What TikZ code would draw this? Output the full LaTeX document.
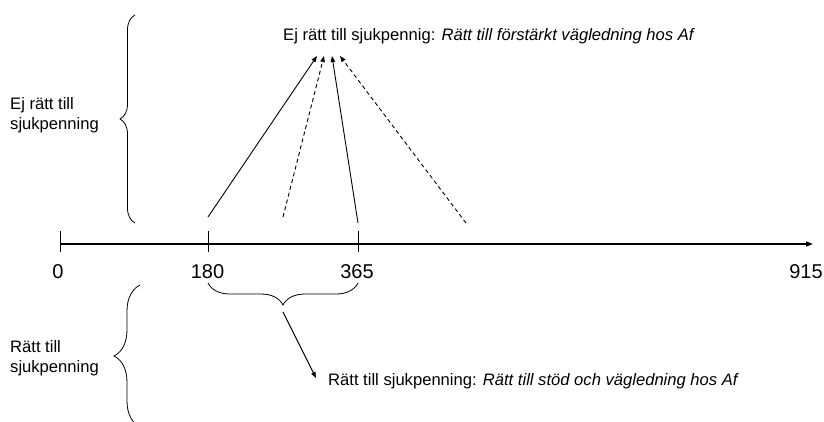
\documentclass[tikz,border=0pt]{standalone}
\usepackage{fontspec}
\setmainfont{Liberation Sans}
\usetikzlibrary{arrows.meta,decorations.pathreplacing}
\begin{document}
\begin{tikzpicture}[x=1pt,y=1pt,
  lbl/.style={inner sep=0pt,font=\fontsize{16.6}{20}\selectfont,align=left},
  num/.style={inner sep=0pt,font=\fontsize{20}{22}\selectfont},
  arr/.style={line width=0.9pt,-{Triangle[length=6pt,width=4.5pt]}},
  dsh/.style={arr,dash pattern=on 4pt off 3pt},
  tick/.style={line width=0.8pt},
  brc/.style={line width=0.8pt,decorate,decoration={brace,amplitude=#1}}]
\useasboundingbox (0,0) rectangle (824,-421);
\begin{scope}
\clip (0,0) rectangle (824,-421);
% axis
\coordinate (a0) at (60,-244);
\coordinate (aend) at (813,-244);
\draw[line width=1.3pt,-{Triangle[length=7pt,width=5pt]}] (a0) -- (aend);
\draw[tick] (60,-231) -- (60,-252);
\draw[tick] (208,-231) -- (208,-252);
\draw[tick] (358,-231) -- (358,-252);
\node[num] (n0) at (58,-272) {0};
\node[num] (n180) at (207.5,-272) {180};
\node[num] (n365) at (357,-272) {365};
\node[num] (n915) at (806,-272) {915};
% braces
\draw[brc=15] (135,-223) -- (135,-15);
\draw[brc=26] (140,-427) -- (140,-285);
\draw[brc=22] (358,-283) -- (208,-283);
\node[lbl,anchor=west] (ej) at (10,-115) {Ej rätt till\\sjukpenning};
\node[lbl,anchor=west] (ratt) at (10,-358) {Rätt till\\sjukpenning};
% top text and arrows
\node[lbl,anchor=west] (top) at (283,-36) {Ej rätt till sjukpennig: \textit{Rätt till förstärkt vägledning hos Af}};
\coordinate (s1) at (208,-217);
\coordinate (s2) at (283,-217);
\coordinate (s3) at (358,-223);
\coordinate (s4) at (466,-223);
\coordinate (t1) at (317,-56);
\coordinate (t2) at (324,-56);
\coordinate (t3) at (332,-56);
\coordinate (t4) at (340,-56);
\draw[arr] (s1) -- (t1);
\draw[dsh] (s2) -- (t2);
\draw[arr] (s3) -- (t3);
\draw[dsh] (s4) -- (t4);
% bottom
\coordinate (bt) at (283,-312);
\node[lbl,anchor=west] (bot) at (328,-381) {Rätt till sjukpenning: \textit{Rätt till stöd och vägledning hos Af}};
\draw[arr] (bt) -- (316,-378);
\end{scope}
\end{tikzpicture}
\end{document}
